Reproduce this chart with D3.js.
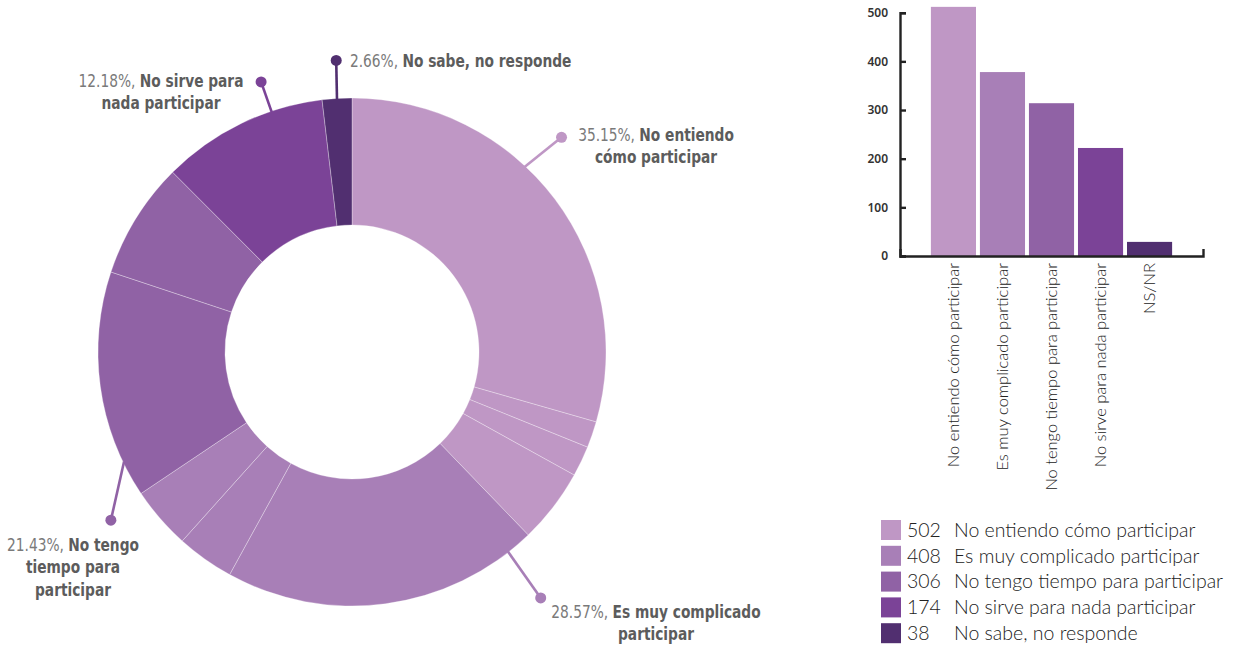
<!DOCTYPE html>
<html>
<head>
<meta charset="utf-8">
<script src="https://cdn.jsdelivr.net/npm/d3@7/dist/d3.min.js"></script>
<style>
  html, body { margin: 0; padding: 0; background: #fff; }
  svg { display: block; }
  .lbl { font-family: "Liberation Sans Narrow", "DejaVu Sans Condensed", "Roboto", sans-serif; font-stretch: condensed; font-size: 17px; }
  .leg { font-family: "Lato", "Noto Sans", sans-serif; font-weight: 300; font-size: 19.5px; fill: #222; }
  .xl { font-family: "Lato", "Noto Sans", sans-serif; font-weight: 300; font-size: 16.5px; fill: #222; }
  .yt { font-family: "Noto Sans", sans-serif; font-weight: 600; font-size: 12px; fill: #333; }
</style>
</head>
<body>
<svg id="chart" width="1238" height="647"></svg>
<script>
// ---------------- DATA ----------------
const categories = ["No entiendo cómo participar", "Es muy complicado participar", "No tengo tiempo para participar", "No sirve para nada participar", "No sabe, no responde"];
const legendValues = [502, 408, 306, 174, 38];
const percentLabels = ["35.15%", "28.57%", "21.43%", "12.18%", "2.66%"];
const barLabels = ["No entiendo cómo participar", "Es muy complicado participar", "No tengo tiempo para participar", "No sirve para nada participar", "NS/NR"];
const barValues = [512, 378, 314, 222, 29];
const yTicks = [0, 100, 200, 300, 400, 500];
// donut sub-segments (share of circle, %) and the category each belongs to
const donutSegments = [29.44, 1.67, 1.94, 4.75, 20.2, 3.65, 3.95, 14.5, 7.42, 10.6, 1.88];
const donutSegmentGroup = [0, 0, 0, 0, 1, 1, 1, 2, 2, 3, 4];

// ---------------- STYLE / LAYOUT ----------------
const colors = ["#bf97c5", "#a87fb7", "#9062a5", "#7b4397", "#512f70"];
const cx = 352, cy = 352, rOuter = 254, rInner = 127;
// leader lines: edge angle (deg), dot angle (deg), dot radius
const leaders = [
  { a0: 43, a1: 44.3, r1: 300 },
  { a0: 142, a1: 142.5, r1: 310 },
  { a0: 244.3, a1: 235.1, r1: 294 },
  { a0: 341.5, a1: 341.4, r1: 285 },
  { a0: 356.6, a1: 356.9, r1: 292 }
];
// label text blocks: position and word breaks
const labelLayout = [
  { x: 656, y: 135, anchor: "middle", breaks: [2] },
  { x: 656, y: 612, anchor: "middle", breaks: [3] },
  { x: 73, y: 545, anchor: "middle", breaks: [2, 4] },
  { x: 161, y: 81, anchor: "middle", breaks: [3] },
  { x: 350, y: 61, anchor: "start", breaks: [] }
];
const lineH = 22.5;
const condense = 0.9;

const svg = d3.select("#chart");

// ---------------- DONUT ----------------
const g = svg.append("g").attr("transform", `translate(${cx},${cy})`);
const pie = d3.pie().sort(null).value(d => d.v);
const segs = donutSegments.map((v, i) => ({ v, grp: donutSegmentGroup[i] }));
const arc = d3.arc().innerRadius(rInner).outerRadius(rOuter);
g.selectAll("path.seg").data(pie(segs)).join("path")
  .attr("class", "seg")
  .attr("d", arc)
  .attr("fill", d => colors[d.data.grp])
  .attr("stroke", "rgba(255,255,255,0.5)")
  .attr("stroke-width", 0.6);

const rad = a => a * Math.PI / 180;
const polar = (a, r) => [r * Math.sin(rad(a)), -r * Math.cos(rad(a))];

leaders.forEach((L, i) => {
  const p0 = polar(L.a0, rOuter - 1);
  const p1 = polar(L.a1, L.r1);
  g.append("line")
    .attr("x1", p0[0]).attr("y1", p0[1]).attr("x2", p1[0]).attr("y2", p1[1])
    .attr("stroke", colors[i]).attr("stroke-width", 2.6);
  g.append("circle").attr("cx", p1[0]).attr("cy", p1[1]).attr("r", 5.5).attr("fill", colors[i]);
});

// labels
categories.forEach((cat, i) => {
  const lay = labelLayout[i];
  const words = cat.split(" ");
  const cuts = [0, ...lay.breaks, words.length];
  const t = svg.append("text").attr("class", "lbl")
    .attr("text-anchor", lay.anchor)
    .attr("transform", `translate(${lay.x},${lay.y}) scale(${condense},1)`)
    .attr("dy", "0.35em");
  for (let k = 0; k < cuts.length - 1; k++) {
    const part = words.slice(cuts[k], cuts[k + 1]).join(" ");
    if (k === 0) {
      t.append("tspan").attr("x", 0).attr("fill", "#7a7a7a").text(percentLabels[i] + ", ");
      t.append("tspan").attr("fill", "#5c5c5c").attr("font-weight", "bold").text(part);
    } else {
      t.append("tspan").attr("x", 0).attr("dy", lineH).attr("fill", "#5c5c5c").attr("font-weight", "bold").text(part);
    }
  }
});

// ---------------- BAR CHART ----------------
const x0 = 900, x1 = 1203, yBase = 256, yTop = 12.7;
const x = d3.scaleBand().domain(barLabels).range([x0, x1]).paddingInner(0.08).paddingOuter(0.63);
const y = d3.scaleLinear().domain([0, 500]).range([yBase, yTop]);

svg.selectAll("rect.bar").data(barValues).join("rect")
  .attr("class", "bar")
  .attr("x", (d, i) => x(barLabels[i]))
  .attr("width", x.bandwidth())
  .attr("y", d => y(d))
  .attr("height", d => yBase - y(d))
  .attr("fill", (d, i) => colors[i]);

const yAxis = d3.axisLeft(y).tickValues(yTicks).tickSize(-6).tickSizeOuter(-6).tickPadding(12);
const ya = svg.append("g").attr("transform", `translate(${x0},0)`).call(yAxis);
ya.selectAll("path, line").attr("stroke", "#222").attr("stroke-width", 2.4);
ya.selectAll("text").attr("class", "yt").attr("font-family", null).attr("font-size", null).attr("fill", null);

const xAxis = d3.axisBottom(x).tickSize(0).tickSizeOuter(-7).tickFormat("");
const xa = svg.append("g").attr("transform", `translate(0,${yBase})`).call(xAxis);
xa.selectAll("path").attr("stroke", "#222").attr("stroke-width", 2.4);

svg.selectAll("text.xl").data(barLabels).join("text")
  .attr("class", "xl")
  .attr("text-anchor", "end")
  .attr("transform", d => `translate(${x(d) + x.bandwidth() / 2},263) rotate(-90)`)
  .attr("dy", "0.35em")
  .text(d => d);

// ---------------- LEGEND ----------------
const lg = svg.append("g");
categories.forEach((cat, i) => {
  const yy = 520 + i * 25.8;
  lg.append("rect").attr("x", 881).attr("y", yy).attr("width", 20).attr("height", 20).attr("fill", colors[i]);
  lg.append("text").attr("class", "leg").attr("x", 907).attr("y", yy + 10).attr("dy", "0.35em").text(legendValues[i]);
  lg.append("text").attr("class", "leg").attr("x", 954).attr("y", yy + 10).attr("dy", "0.35em").text(cat);
});
</script>
</body>
</html>
